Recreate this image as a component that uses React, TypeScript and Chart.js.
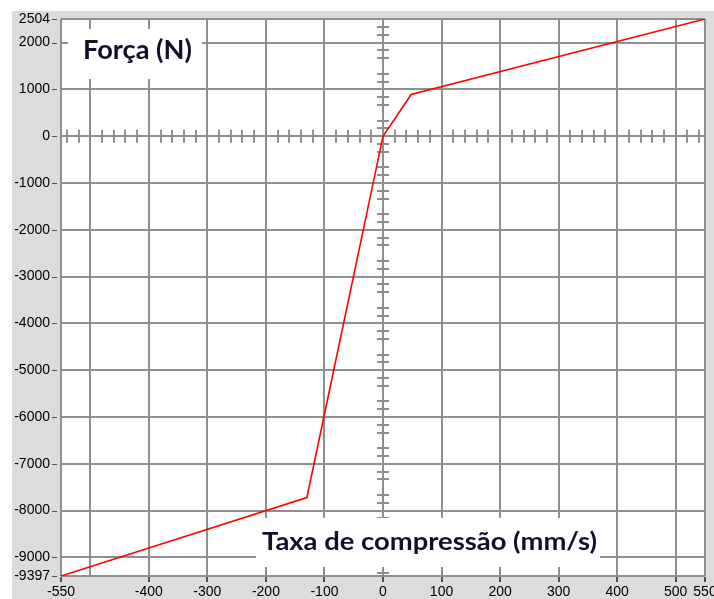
import React, { useEffect, useRef } from 'react';
import { Chart, registerables } from 'chart.js';

Chart.register(...registerables);

// ---- data ----
const rateValues = [-550, -130, 0, 48, 550]; // mm/s
const forceValues = [-9397, -7720, 0, 890, 2504]; // N

const xTickValues = [-550, -500, -400, -300, -200, -100, 0, 100, 200, 300, 400, 500, 550];
const xTickLabels = ['-550', '', '-400', '-300', '-200', '-100', '0', '100', '200', '300', '400', '500', '550'];
const yTickValues = [2504, 2000, 1000, 0, -1000, -2000, -3000, -4000, -5000, -6000, -7000, -8000, -9000, -9397];
const yTickLabels = ['2504', '2000', '1000', '0', '-1000', '-2000', '-3000', '-4000', '-5000', '-6000', '-7000', '-8000', '-9000', '-9397'];

const xMin = -550;
const xMax = 550;
const yMin = -9397;
const yMax = 2504;
const xMinorStep = 20;
const xMajorStep = 100;
const yMajorStep = 1000;
const yMinorFractions = [1 / 6, 2 / 6, 4 / 6, 5 / 6];

const yTitle = 'Força (N)';
const xTitle = 'Taxa de compressão (mm/s)';

const GRID = '#8f8f8f';
const BG = '#dcdcdc';
const TEXT = '#000000';
const TITLE = '#10102a';

function drawFitted(ctx: CanvasRenderingContext2D, text: string, x: number, y: number, width: number, font: string) {
  ctx.save();
  ctx.font = font;
  ctx.textBaseline = 'alphabetic';
  ctx.textAlign = 'left';
  const w = ctx.measureText(text).width;
  ctx.translate(x, y);
  ctx.scale(width / w, 1);
  ctx.fillStyle = TITLE;
  ctx.fillText(text, 0, 0);
  ctx.restore();
}

const decor = {
  id: 'decor',
  beforeDraw(chart: any) {
    const { ctx, chartArea: a, width, height } = chart;
    ctx.save();
    ctx.fillStyle = BG;
    ctx.fillRect(0, 0, width, height);
    ctx.fillStyle = '#ffffff';
    ctx.fillRect(a.left, a.top, a.right - a.left, a.bottom - a.top);
    ctx.restore();
  },
  beforeDatasetsDraw(chart: any) {
    const { ctx, chartArea: a, scales } = chart;
    const xs = scales.x;
    const ys = scales.y;
    const x0 = xs.getPixelForValue(0);
    const y0 = ys.getPixelForValue(0);
    ctx.save();
    ctx.strokeStyle = GRID;
    ctx.lineWidth = 2;
    ctx.beginPath();
    // minor ticks on the horizontal axis (y = 0)
    for (let v = Math.ceil(xMin / xMinorStep) * xMinorStep; v <= xMax; v += xMinorStep) {
      if (v % xMajorStep === 0 || v <= xMin || v >= xMax) continue;
      const px = Math.round(xs.getPixelForValue(v));
      ctx.moveTo(px, y0 - 6.5);
      ctx.lineTo(px, y0 + 6.5);
    }
    // minor ticks on the vertical axis (x = 0)
    for (let base = Math.floor(yMin / yMajorStep) * yMajorStep; base < yMax; base += yMajorStep) {
      for (const f of yMinorFractions) {
        const v = base + f * yMajorStep;
        if (v <= yMin || v >= yMax) continue;
        const py = Math.round(ys.getPixelForValue(v));
        ctx.moveTo(x0 - 6, py);
        ctx.lineTo(x0 + 6, py);
      }
    }
    ctx.stroke();

    // outer ticks (left and bottom)
    ctx.strokeStyle = '#505050';
    ctx.lineWidth = 1;
    ctx.beginPath();
    yTickValues.forEach((v) => {
      const py = Math.round(ys.getPixelForValue(v)) + 0.5;
      ctx.moveTo(a.left - 9, py);
      ctx.lineTo(a.left - 4, py);
    });
    ctx.stroke();
    ctx.lineWidth = 2;
    ctx.beginPath();
    xTickValues.forEach((v, i) => {
      if (!xTickLabels[i]) return;
      const px = Math.round(xs.getPixelForValue(v));
      ctx.moveTo(px, a.bottom + 1);
      ctx.lineTo(px, a.bottom + 6);
    });
    ctx.stroke();

    // title boxes
    ctx.fillStyle = '#ffffff';
    ctx.fillRect(a.left + 7, a.top + 10, 134, 50);
    ctx.fillRect(a.left + 195, a.bottom - 58, 344, 49);
    ctx.restore();

    drawFitted(ctx, yTitle, a.left + 22, a.top + 40, 109, 'bold 26px Lato');
    drawFitted(ctx, xTitle, a.left + 201, a.bottom - 26, 335, 'bold 25px Lato');
  },
};

export default function App() {
  const ref = useRef<HTMLCanvasElement | null>(null);
  useEffect(() => {
    if (!ref.current) return;
    const points = rateValues.map((x, i) => ({ x, y: forceValues[i] }));
    const chart = new Chart(ref.current, {
      type: 'line',
      data: {
        datasets: [
          {
            data: points,
            borderColor: '#ff0000',
            borderWidth: 1.6,
            pointRadius: 0,
            tension: 0,
            fill: false,
          },
        ],
      },
      options: {
        animation: false,
        responsive: false,
        maintainAspectRatio: false,
        layout: { padding: { top: 8, right: 9, left: 0, bottom: 0 }, autoPadding: false } as any,
        plugins: { legend: { display: false }, tooltip: { enabled: false }, title: { display: false } },
        scales: {
          x: {
            type: 'linear',
            min: xMin,
            max: xMax,
            afterBuildTicks: (s: any) => {
              s.ticks = xTickValues.map((value) => ({ value }));
            },
            afterFit: (s: any) => {
              s.height = 23;
              s.paddingLeft = 0;
              s.paddingRight = 0;
            },
            grid: { color: GRID, lineWidth: 2, drawTicks: false },
            border: { display: false },
            ticks: {
              autoSkip: false,
              maxRotation: 0,
              minRotation: 0,
              padding: 8,
              color: TEXT,
              font: { family: 'Liberation Sans', size: 14 },
              callback: (_v: any, i: number) => xTickLabels[i],
            },
          },
          y: {
            type: 'linear',
            min: yMin,
            max: yMax,
            afterBuildTicks: (s: any) => {
              s.ticks = yTickValues.map((value) => ({ value }));
            },
            afterFit: (s: any) => {
              s.width = 49;
              s.paddingTop = 0;
              s.paddingBottom = 0;
            },
            grid: { color: GRID, lineWidth: 2, drawTicks: false },
            border: { display: false },
            ticks: {
              autoSkip: false,
              padding: 11,
              color: TEXT,
              font: { family: 'Liberation Sans', size: 14 },
              callback: (_v: any, i: number) => yTickLabels[i],
            },
          },
        },
      },
      plugins: [decor],
    });
    return () => chart.destroy();
  }, []);

  return (
    <div style={{ position: 'absolute', left: 0, top: 0, width: 714, height: 599, background: '#fff', overflow: 'hidden' }}>
      <canvas
        ref={ref}
        width={702}
        height={588}
        style={{ position: 'absolute', left: 12, top: 11, width: 702, height: 588, display: 'block' }}
      />
    </div>
  );
}
